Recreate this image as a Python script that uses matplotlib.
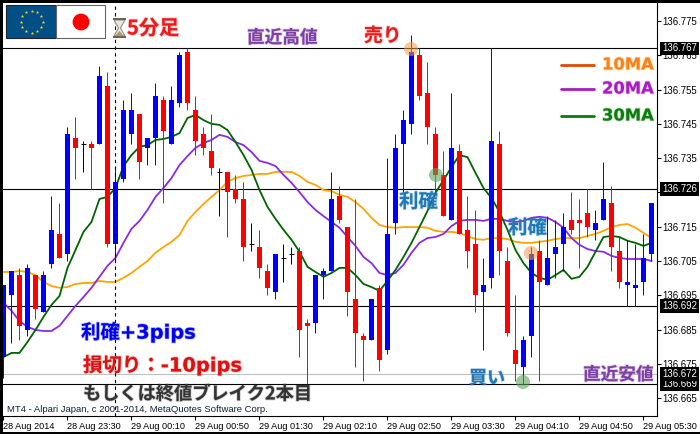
import numpy as np
import matplotlib
matplotlib.use('Agg')
import matplotlib.pyplot as plt
import matplotlib.patheffects as pe
from matplotlib.patches import Rectangle, Circle, Polygon

plt.rcParams['font.family'] = ['Noto Sans CJK JP', 'DejaVu Sans']

# bars, every one 5 minutes, prices in thousandths above 136
body_top = [698,702,701,703,701,701,714,713,742,741,739,739,759,756,728,749,749,748,741,753,
            752,752,765,766,749,742,737,731,731,726,723,710,709,702,707,706,707,708,687,701,
            702,723,724,715,694,683,694,697,713,738,746,766,765,754,742,730,738,737,714,710,
            698,740,739,705,679,682,707,708,706,709,715,717,717,719,716,723,722,708,699,698,
            706,722]
body_bot = [677,695,686,685,691,690,704,706,707,738,739,738,739,710,710,729,742,734,738,741,
            743,739,751,751,740,738,732,731,725,723,709,710,703,697,696,706,707,685,686,687,
            701,702,717,696,684,682,682,676,679,716,739,745,753,744,730,718,717,713,708,695,
            696,700,708,684,675,674,683,699,698,707,710,714,716,715,714,717,709,699,698,697,
            699,707]
highs = [698,702,703,704,701,702,724,722,744,747,740,740,762,760,732,752,754,748,741,757,
         753,756,766,767,753,744,748,732,731,730,728,716,714,704,707,710,709,709,688,701,
         703,731,727,715,723,684,694,698,735,742,749,771,767,763,744,737,754,739,724,720,
         706,767,743,709,695,683,709,711,718,717,719,725,723,726,720,734,727,712,711,710,
         713,722]
lows = [671,681,682,683,688,690,703,706,705,729,731,726,739,709,705,728,739,729,733,733,
        722,739,750,749,736,736,730,718,712,722,705,708,700,695,694,699,704,677,669,684,
        694,702,716,689,674,670,682,673,678,713,725,742,752,739,725,718,717,713,703,690,
        679,697,701,683,670,669,677,670,698,700,702,713,703,712,711,717,702,697,692,692,
        695,705]
# colour of each bar: b up, r down, k doji
bar_kind = ('bbrbrbbrbr' 'krbrbbbrbb' 'rbbrrrrkrr' 'rkrrbkkrrb' 'bbrrrrbrbb'
            'bbrrrrbrrr' 'bbrrrbbrbb' 'brrrbbrrbb' 'bb')

ma_10 = [701.8,701.8,702.1,701.8,700.9,698.9,697.7,697.2,697.4,698.3,
         698.6,698.6,699.2,698.9,698.9,700.1,701.5,703.3,705.0,707.4,
         709.1,710.6,712.6,716.7,719.3,721.6,723.7,725.7,728.1,729.2,
         729.8,730.1,730.4,730.4,731.0,731.0,731.0,729.8,728.1,727.2,
         725.7,725.4,724.3,723.7,722.2,720.2,717.6,715.5,714.9,714.7,
         714.9,714.9,714.9,714.7,713.8,713.5,713.5,713.2,712.3,711.4,
         711.2,711.7,711.7,711.4,710.6,710.3,710.3,710.6,710.9,711.4,
         711.7,711.7,711.7,712.3,712.9,713.8,714.9,715.5,715.8,714.7,
         713.2,711.7]
ma_20 = [692.8,690.5,687.5,685.8,684.9,684.6,684.6,686.1,689.0,691.9,
         694.5,697.2,700.4,703.6,705.9,710.3,714.4,716.7,719.9,723.7,
         726.3,729.2,733.0,735.6,738.0,739.4,740.3,741.8,741.2,739.7,
         738.8,736.8,734.2,733.6,732.7,730.1,727.8,725.1,722.2,719.9,
         718.1,716.4,714.7,712.0,709.4,706.2,704.4,701.5,700.9,701.5,
         703.9,707.4,710.3,711.7,712.0,712.9,715.2,716.7,717.0,717.0,
         716.7,717.3,717.3,716.7,716.4,716.7,717.6,717.9,717.6,716.4,
         714.7,711.7,709.7,708.5,707.9,707.7,706.5,705.9,705.6,705.6,
         705.6,705.0]
ma_30 = [677.0,678.2,678.2,681.4,684.9,688.7,692.2,694.8,703.0,708.2,
         713.5,716.4,723.1,723.7,726.3,732.7,735.9,738.3,738.8,740.3,
         740.6,741.2,742.3,746.7,747.6,746.1,745.0,744.7,743.2,739.7,
         735.9,731.6,725.7,720.8,717.3,714.1,711.2,707.7,703.3,701.8,
         700.4,701.5,703.0,703.0,700.9,698.3,697.4,696.3,699.2,702.4,
         706.2,710.3,714.9,719.6,724.9,728.6,732.4,735.9,735.3,730.7,
         726.3,723.4,719.3,714.1,708.2,704.4,701.5,700.1,699.5,700.9,
         702.4,699.8,700.4,703.3,707.7,712.0,712.3,712.0,710.9,710.3,
         709.4,710.3]

time_labels = ['28 Aug 2014', '28 Aug 23:30', '29 Aug 00:10', '29 Aug 00:50', '29 Aug 01:30',
               '29 Aug 02:10', '29 Aug 02:50', '29 Aug 03:30', '29 Aug 04:10', '29 Aug 04:50',
               '29 Aug 05:30']
price_ticks = [136.665, 136.675, 136.685, 136.695, 136.705, 136.715, 136.725, 136.735,
               136.745, 136.755, 136.765, 136.775]
level_lines = [136.767, 136.726, 136.692, 136.669]
recent_bid = [136.672]
marked_bar = 14

def to_price(values):
    return 136 + np.array(values) / 1000

W, H = 700, 434
fig = plt.figure(figsize=(W / 100, H / 100), dpi=100, facecolor='white')
ax = fig.add_axes([3 / W, 1 - 416 / H, 654 / W, 413 / H])

x = np.arange(len(body_top))
tops, bots, hi, lo = to_price(body_top), to_price(body_bot), to_price(highs), to_price(lows)
colours = {'b': '#0000ff', 'r': '#ff0000', 'k': '#000000'}
cols = [colours[k] for k in bar_kind]

for p in level_lines:
    ax.axhline(p, color='black', lw=0.8, zorder=1)
for p in recent_bid:
    ax.axhline(p, color='#c0c0c0', lw=0.8, zorder=1)

ax.plot(x, to_price(ma_10), color='#ffa500', lw=1.3, zorder=2)
ax.plot(x, to_price(ma_20), color='#8a2be2', lw=1.3, zorder=2)
ax.plot(x, to_price(ma_30), color='#006400', lw=1.3, zorder=2)

ax.vlines(x, lo, hi, colors=cols, lw=0.7, zorder=3)
ax.bar(x, tops - bots, bottom=bots, width=0.66, color=cols, zorder=3, linewidth=0, antialiased=False)
doji = [i for i, k in enumerate(bar_kind) if k == 'k']
ax.hlines(tops[doji], x[doji] - 0.32, x[doji] + 0.32, colors='black', lw=0.75, zorder=3)

ax.axvline(marked_bar, color='black', lw=0.8, ls=(0, (3, 3)), zorder=4)

ax.set_xlim(-0.0625, 81.69)
ax.set_ylim(136.6598, 136.78025)
ax.spines['left'].set_visible(False)
ax.spines['top'].set_visible(False)
ax.spines['right'].set_linewidth(0.8)
ax.spines['bottom'].set_linewidth(0.8)
ax.yaxis.tick_right()
ax.set_yticks(price_ticks)
ax.set_yticklabels(['%.3f' % p for p in price_ticks], fontfamily='Liberation Sans', fontsize=6.9)
ax.set_xticks(x[::8])
ax.set_xticklabels(time_labels, fontfamily='Liberation Sans', fontsize=6.6, ha='left')
ax.tick_params(axis='y', length=3, width=0.8, pad=1)
ax.tick_params(axis='x', length=3, width=0.8, pad=1.5)

for p in level_lines + recent_bid:
    ax.annotate('%.3f' % p, xy=(1, p), xycoords=('axes fraction', 'data'), xytext=(3.6, 0),
                textcoords='offset points', va='center', ha='left', color='white',
                fontfamily='Liberation Sans', fontsize=6.9, zorder=6,
                bbox=dict(boxstyle='square,pad=0.2', fc='black', ec='none'), annotation_clip=False)

# everything pasted on top of the chart, in pixels
over = fig.add_axes([0, 0, 1, 1], zorder=10)
over.set_xlim(0, W)
over.set_ylim(H, 0)
over.axis('off')

# black frame of the screenshot
over.add_patch(Rectangle((0, 0), W, 3, fc='black', ec='none'))
over.add_patch(Rectangle((0, 0), 3, H, fc='black', ec='none'))
over.add_patch(Rectangle((0, 432), W, 2, fc='black', ec='none'))

# flags
over.add_patch(Rectangle((6, 5), 50, 33, fc='#004f86', ec='#222222', lw=0.8))
over.add_patch(Rectangle((56, 5), 49, 33, fc='white', ec='#666666', lw=0.8))
over.add_patch(Circle((81, 22), 8.4, fc='#ff0000', ec='none'))
ang = np.arange(12) * np.pi / 6
over.scatter(31.7 + 11 * np.cos(ang), 21.7 + 11 * np.sin(ang), marker='*', s=7, color='#f4d21f', lw=0)

# hourglass
over.add_patch(Polygon([[114, 20], [125, 20], [120.5, 28], [125, 36], [114, 36], [118.5, 28]],
                       fc='#e8e6df', ec='#8a8578', lw=0.7))
over.add_patch(Polygon([[115, 36], [124, 36], [119.5, 31]], fc='#a89a7c', ec='none'))
over.add_patch(Rectangle((113, 18), 13, 2.2, fc='#6b6558', ec='none'))
over.add_patch(Rectangle((113, 35.8), 13, 2.2, fc='#6b6558', ec='none'))

# entry and exit marks
over.add_patch(Circle((411, 49), 7, fc='#f59a45', ec='none', alpha=0.55))
over.add_patch(Circle((531, 253), 7, fc='#f59a45', ec='none', alpha=0.55))
over.add_patch(Circle((436, 175), 7, fc='#5aa85a', ec='none', alpha=0.6))
over.add_patch(Circle((523, 382), 7, fc='#5aa85a', ec='none', alpha=0.6))

def label(px, py, s, colour, size, family=('Noto Sans CJK JP', 'DejaVu Sans')):
    t = over.text(px, py, s, color=colour, fontsize=size, fontweight='bold', ha='left', va='center',
                  family=list(family))
    t.set_path_effects([pe.withStroke(linewidth=1.2, foreground=colour, alpha=0.25)])

latin_first = ('DejaVu Sans', 'Noto Sans CJK JP')
label(127, 28, '5分足', '#f01818', 14.5)
label(247, 38, '直近高値', '#7d3fa5', 12.7)
label(364, 36, '売り', '#e81c1c', 13.5)
label(399, 202, '利確', '#1f78b8', 14)
label(508, 228, '利確', '#1f78b8', 14)
label(469, 378, '買い', '#1f78b8', 13)
label(583, 375, '直近安値', '#7d3fa5', 12.7)
label(81, 332, '利確+3pips', '#0000f0', 14, latin_first)
label(83, 365, '損切り：-10pips', '#e01010', 14, latin_first)
label(83, 394, 'もしくは終値ブレイク2本目', '#333333', 13.1)
over.text(7, 409, 'MT4 - Alpari Japan, c 2001-2014, MetaQuotes Software Corp.', color='#10203a',
          fontfamily='Liberation Sans', fontsize=6.8, ha='left', va='center')

# moving average legend
legend_rows = [('10MA', '#ff8010', '#e04a00', 65), ('20MA', '#a81cc0', '#a81cc0', 89),
               ('30MA', '#0a7d0a', '#0a7d0a', 116)]
for name, text_col, line_col, py in legend_rows:
    over.plot([561, 594], [py, py], color=line_col, lw=2, solid_capstyle='round')
    label(602, py, name, text_col, 11.8, latin_first)

fig.savefig('out.png', dpi=100, facecolor='white')
